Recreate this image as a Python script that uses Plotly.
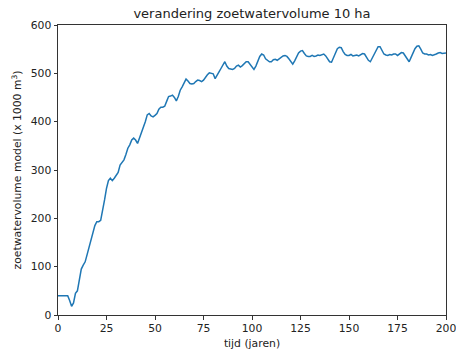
import plotly.graph_objects as go

# Simulated fresh-water volume (x 1000 m3) per year
years = list(range(0, 201))
volume = [
    40, 40, 40, 40, 40, 40, 30, 18, 25, 45,
    50, 72, 95, 103, 110, 125, 140, 155, 172, 185,
    193, 193, 196, 215, 238, 262, 278, 283, 278, 283,
    290, 295, 310, 316, 321, 332, 345, 352, 362, 366,
    362, 355, 366, 378, 385, 400, 414, 417, 412, 410,
    413, 417, 426, 430, 430, 432, 442, 452, 453, 455,
    450, 443, 452, 465, 472, 480, 488, 484, 479, 478,
    479, 483, 486, 485, 483, 486, 492, 497, 501, 500,
    499, 489, 495, 503, 510, 518, 524, 515, 510, 509,
    508, 510, 515, 517, 513, 516, 521, 524, 524, 518,
    512, 508, 515, 526, 535, 540, 538, 530, 526, 524,
    524, 528, 529, 527, 530, 534, 536, 537, 535, 530,
    524, 519, 526, 535, 542, 546, 547, 541, 536, 535,
    535, 537, 535, 536, 538, 537, 539, 540, 536, 529,
    524, 523, 533, 544, 551, 554, 553, 545, 539, 537,
    537, 539, 536, 537, 538, 536, 539, 541, 540, 534,
    527, 524, 532, 542, 550, 555, 555, 548, 540, 538,
    537, 539, 538, 540, 540, 537, 540, 543, 542, 535,
    528, 524, 533, 543, 551, 556, 557, 550, 542, 540,
    540, 538, 539, 537, 538, 540, 542, 543, 541, 542,
    542,
]

x_ticks = [0, 25, 50, 75, 100, 125, 150, 175, 200]
y_ticks = [0, 100, 200, 300, 400, 500, 600]

font_family = "DejaVu Sans"
text_color = "#222222"

fig = go.Figure()
fig.add_trace(go.Scatter(
    x=years, y=volume, mode="lines",
    line=dict(color="#1f77b4", width=1.5),
    showlegend=False,
))

axis_common = dict(
    showline=True, linecolor="#333333", linewidth=1, mirror=True,
    ticks="outside", ticklen=3.5, tickwidth=1, tickcolor="#333333",
    showgrid=False, zeroline=False, automargin=False,
    ticklabeloverflow="allow",
    tickfont=dict(family=font_family, size=10.8, color=text_color),
)

fig.update_layout(
    width=456, height=353,
    margin=dict(l=58, r=10, t=25, b=38),
    paper_bgcolor="white", plot_bgcolor="white",
    title=dict(
        text="verandering zoetwatervolume 10 ha",
        x=(58 + 446) / 2 / 456, xanchor="center",
        y=1 - 13 / 353, yanchor="middle",
        font=dict(family=font_family, size=13, color=text_color),
    ),
    xaxis=dict(
        range=[0, 200], tickvals=x_ticks,
        title=dict(text="tijd (jaren)", standoff=4,
                   font=dict(family=font_family, size=10.8, color=text_color)),
        **axis_common,
    ),
    yaxis=dict(
        range=[0, 600], tickvals=y_ticks,
        title=dict(text="zoetwatervolume model (x 1000 m<sup>3</sup>)", standoff=6,
                   font=dict(family=font_family, size=10.8, color=text_color)),
        **axis_common,
    ),
)

fig.write_html("out.html")
